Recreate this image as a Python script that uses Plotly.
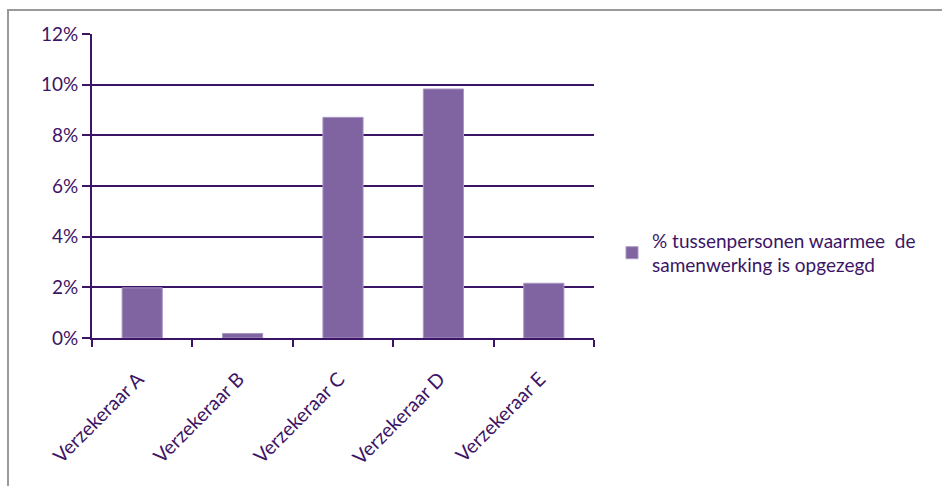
import plotly.graph_objects as go

categories = ["Verzekeraar A", "Verzekeraar B", "Verzekeraar C", "Verzekeraar D", "Verzekeraar E"]
values = [0.0198, 0.0018, 0.0871, 0.0983, 0.0216]
series_name = "% tussenpersonen waarmee  de<br>samenwerking is opgezegd"
y_ticks = [0, 0.02, 0.04, 0.06, 0.08, 0.10, 0.12]
y_tick_labels = ["0%", "2%", "4%", "6%", "8%", "10%", "12%"]

W, H = 942, 486
L, R, T, B = 92, 348, 34, 148
pw, ph = W - L - R, H - T - B

ink = "#3c1466"
fnt = "Lato, Open Sans, sans-serif"

fig = go.Figure()
fig.add_trace(go.Bar(
    x=categories, y=values, name=series_name,
    marker=dict(color="#8064a2", line=dict(color="#a896c4", width=1)),
    width=0.4,
))

def px_x(p):
    return (p - L) / pw

def px_y(p):
    return (H - B - p) / ph

fig.update_layout(
    width=W, height=H,
    margin=dict(l=L, r=R, t=T, b=B),
    paper_bgcolor="white", plot_bgcolor="white",
    font=dict(family=fnt, color=ink, size=18),
    showlegend=True,
    legend=dict(x=px_x(612), y=px_y(253), xanchor="left", yanchor="middle",
                font=dict(size=19, color=ink), itemwidth=30, tracegroupgap=0),
    xaxis=dict(
        tickson="boundaries", ticks="outside", ticklen=7, tickcolor=ink, tickwidth=2,
        showline=True, linecolor=ink, linewidth=2, showgrid=False,
        tickangle=-45, tickfont=dict(size=19.5, color=ink),
        ticklabelstandoff=20, ticklabelshift=-4,
        range=[-0.5, 4.5], mirror=False,
    ),
    yaxis=dict(
        range=[0, 0.12], tickvals=y_ticks, ticktext=y_tick_labels,
        ticks="outside", ticklen=8, tickcolor=ink, tickwidth=2,
        showline=True, linecolor=ink, linewidth=2,
        showgrid=True, gridcolor=ink, gridwidth=2, zeroline=False,
        tickfont=dict(size=19, color=ink),
    ),
    shapes=[dict(type="rect", xref="paper", yref="paper",
                 x0=px_x(8), x1=px_x(950), y0=px_y(495), y1=px_y(10),
                 line=dict(color="#9a9a9a", width=2), fillcolor="rgba(0,0,0,0)", layer="below")],
)

fig.write_html("out.html", config={"displayModeBar": False},
               post_script="document.body.style.margin='0';")
